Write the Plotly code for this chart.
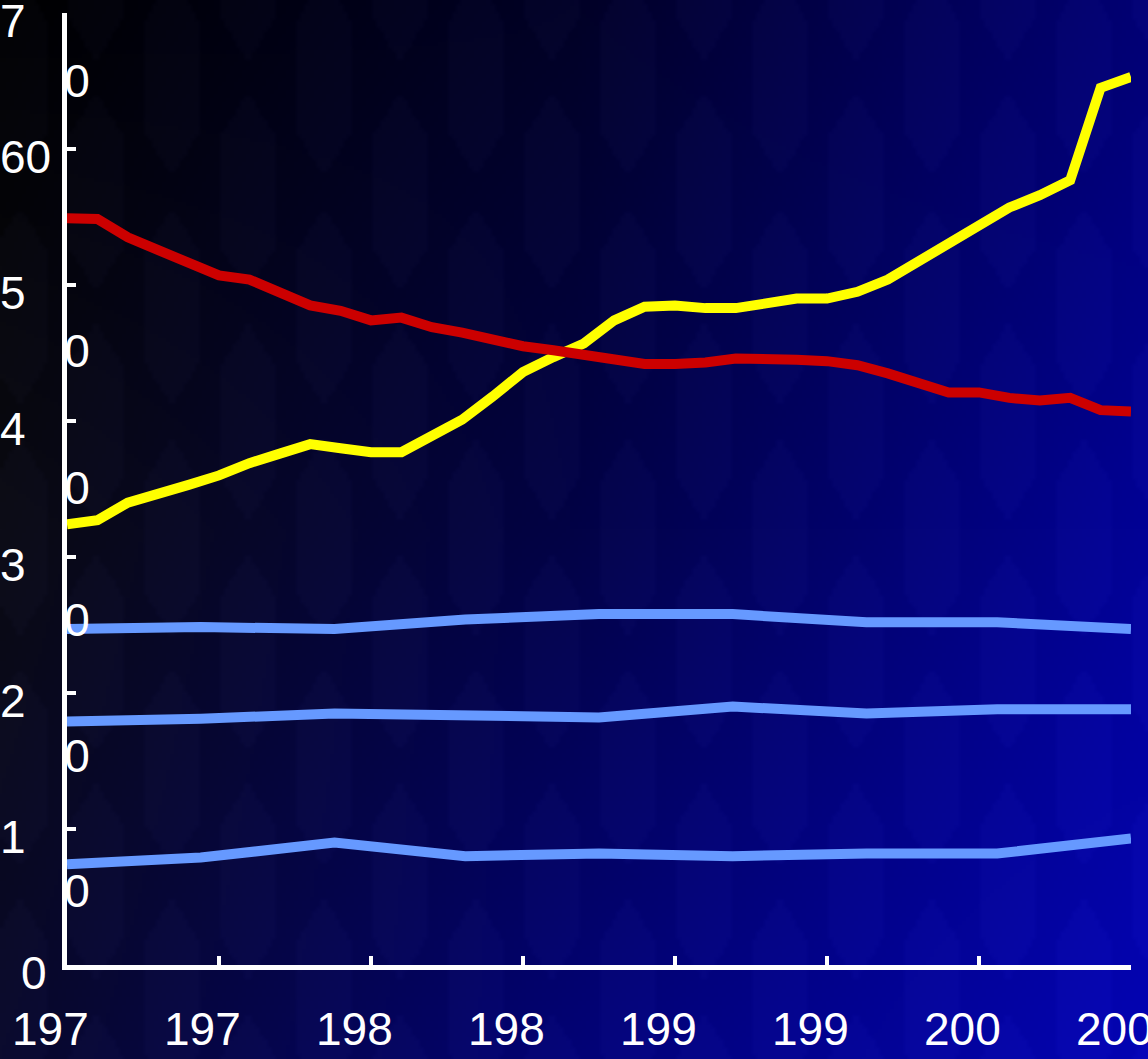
import base64
import struct
import zlib

import numpy as np
import plotly.graph_objects as go

# ---------------- data ----------------
years = list(range(1970, 2006))
yellow_vals = [32.4, 32.7, 34.0, 34.6, 35.3, 36.0, 36.9, 37.6, 38.3, 38.0, 37.7, 37.7,
               38.8, 40.1, 41.8, 43.6, 44.7, 45.7, 47.4, 48.4, 48.5, 48.3, 48.3, 48.7,
               49.0, 49.0, 49.5, 50.4, 51.7, 52.9, 54.4, 55.7, 56.6, 57.7, 64.5, 65.3]
red_vals = [54.9, 54.85, 53.5, 52.6, 51.6, 50.7, 50.4, 49.4, 48.5, 48.1, 47.4, 47.6,
            46.9, 46.5, 46.0, 45.5, 45.2, 44.85, 44.5, 44.2, 44.2, 44.3, 44.6, 44.6,
            44.5, 44.4, 44.1, 43.5, 42.8, 42.1, 42.1, 41.7, 41.5, 41.7, 40.8, 40.7]

blue_years = [1970, 1974.4, 1978.8, 1983.1, 1987.5, 1991.9, 1996.3, 2000.6, 2005]
blue_top = [24.7, 24.85, 24.7, 25.4, 25.8, 25.8, 25.2, 25.2, 24.7]
blue_mid = [17.9, 18.1, 18.5, 18.3, 18.2, 19.0, 18.5, 18.8, 18.8]
blue_low = [7.4, 7.9, 9.0, 8.0, 8.2, 8.0, 8.2, 8.2, 9.3]

x_tick_vals = [1970, 1975, 1980, 1985, 1990, 1995, 2000, 2005]
x_tick_text = ["197", "197", "198", "198", "199", "199", "200", "200"]
y_tick_vals = [0, 10, 20, 30, 40, 50, 60, 70]
y_text_line1 = ["0", "1", "2", "3", "4", "5", "60", "7"]
y_text_line2 = ["", "0", "0", "0", "0", "0", "", "0"]

# ---------------- geometry / style ----------------
W, H = 1148, 1059
X0, X1 = 67, 1131      # px of plot area
Y0, Y1 = 13, 965       # px of plot area (top, bottom)
PX_PER_UNIT = (Y1 - Y0) / 70.0
FONT = "Liberation Sans, Arial, sans-serif"
FS = 46
# vertical drop (px) of the wrapped second line below each y tick
line2_drop_px = [0, 66, 67, 67, 71, 70, 0, 72]

# ---------------- background gradient + faint crystal pattern ----------------
grid = np.array([
    [[0, 0, 0], [1, 1, 38], [2, 0, 116]],
    [[10, 10, 18], [2, 2, 70], [2, 2, 150]],
    [[8, 8, 42], [2, 2, 118], [4, 4, 180]],
], dtype=float)
bw, bh = 287, 265
u = np.linspace(0, 2, bw)
v = np.linspace(0, 2, bh)
img = np.zeros((bh, bw, 3))
for c in range(3):
    rows = np.array([np.interp(u, [0, 1, 2], grid[r, :, c]) for r in range(3)])
    for i in range(bw):
        img[:, i, c] = np.interp(v, [0, 1, 2], rows[:, i])

PX, PY = np.meshgrid(np.arange(bw) * (W / bw), np.arange(bh) * (H / bh))
col_w, cell_h = 76.0, 230.0
k = np.floor((PX + 20) / col_w)
lx = (PX + 20) - k * col_w - col_w / 2
ly = np.mod(PY + (k % 2) * cell_h / 2 + 40, cell_h) - cell_h / 2
inside = (np.abs(lx) <= 27) & (np.abs(ly) + np.abs(lx) * 1.6 <= 100)
tint = np.array([3.0, 3.0, 5.0])
img = img + inside[..., None] * tint
img = np.clip(img, 0, 255).astype(np.uint8)


def png_bytes(arr):
    h, w, _ = arr.shape
    raw = b"".join(b"\x00" + arr[i].tobytes() for i in range(h))

    def chunk(tag, data):
        return (struct.pack(">I", len(data)) + tag + data
                + struct.pack(">I", zlib.crc32(tag + data) & 0xFFFFFFFF))
    return (b"\x89PNG\r\n\x1a\n"
            + chunk(b"IHDR", struct.pack(">IIBBBBB", w, h, 8, 2, 0, 0, 0))
            + chunk(b"IDAT", zlib.compress(raw, 9))
            + chunk(b"IEND", b""))


bg_src = "data:image/png;base64," + base64.b64encode(png_bytes(img)).decode()

# ---------------- figure ----------------
fig = go.Figure()

for vals in (blue_top, blue_mid, blue_low):
    fig.add_trace(go.Scatter(x=blue_years, y=vals, mode="lines",
                             line=dict(color="#6699FF", width=10),
                             showlegend=False))
fig.add_trace(go.Scatter(x=years, y=yellow_vals, mode="lines",
                         line=dict(color="#FFFF00", width=10), showlegend=False))
fig.add_trace(go.Scatter(x=years, y=red_vals, mode="lines",
                         line=dict(color="#CC0000", width=10), showlegend=False))

# second-line "0" of the wrapped y tick labels (above the data lines,
# partly hidden under the axis line)
sec_y = [v - d / PX_PER_UNIT
         for v, t, d in zip(y_tick_vals, y_text_line2, line2_drop_px) if t]
sec_t = [t for t in y_text_line2 if t]
fig.add_trace(go.Scatter(
    x=[x_tick_vals[0] + 0.33] * len(sec_y), y=sec_y, text=sec_t, mode="text",
    textposition="middle center", cliponaxis=False,
    textfont=dict(family=FONT, size=FS, color="white"),
    hoverinfo="skip", showlegend=False))

annotations = []
for xv, t in zip(x_tick_vals, x_tick_text):
    annotations.append(dict(x=xv, xref="x", y=1 - 1029 / H, yref="paper",
                            text=t, showarrow=False, xanchor="center",
                            yanchor="middle", xshift=-17, borderpad=0,
                            font=dict(family=FONT, size=FS, color="white")))
for yv, t in zip(y_tick_vals, y_text_line1):
    xpx = 20 if t == "0" else -1
    annotations.append(dict(x=xpx / W, xref="paper", y=yv, yref="y",
                            text=t, showarrow=False, xanchor="left",
                            yanchor="middle", yshift=-8, borderpad=0,
                            font=dict(family=FONT, size=FS, color="white")))

fig.update_layout(
    width=W, height=H,
    margin=dict(l=0, r=0, t=0, b=0),
    paper_bgcolor="#000000",
    plot_bgcolor="rgba(0,0,0,0)",
    showlegend=False,
    images=[dict(source=bg_src, xref="paper", yref="paper", x=0, y=1,
                 sizex=1, sizey=1, sizing="stretch", layer="below",
                 xanchor="left", yanchor="top")],
    xaxis=dict(domain=[X0 / W, X1 / W], range=[1970, 2005],
               showgrid=False, zeroline=False, showline=True,
               linecolor="white", linewidth=5,
               ticks="inside", ticklen=9, tickwidth=4, tickcolor="white",
               tickvals=x_tick_vals, showticklabels=False, fixedrange=True),
    yaxis=dict(domain=[1 - Y1 / H, 1 - Y0 / H], range=[0, 70],
               showgrid=False, zeroline=False, showline=True,
               linecolor="white", linewidth=5,
               ticks="inside", ticklen=9, tickwidth=4, tickcolor="white",
               tickvals=y_tick_vals, showticklabels=False, fixedrange=True),
    annotations=annotations,
)

fig.write_html("out.html",
               config={"displayModeBar": False, "staticPlot": True},
               post_script="document.body.style.margin='0';"
                           "document.body.style.background='#000';")
